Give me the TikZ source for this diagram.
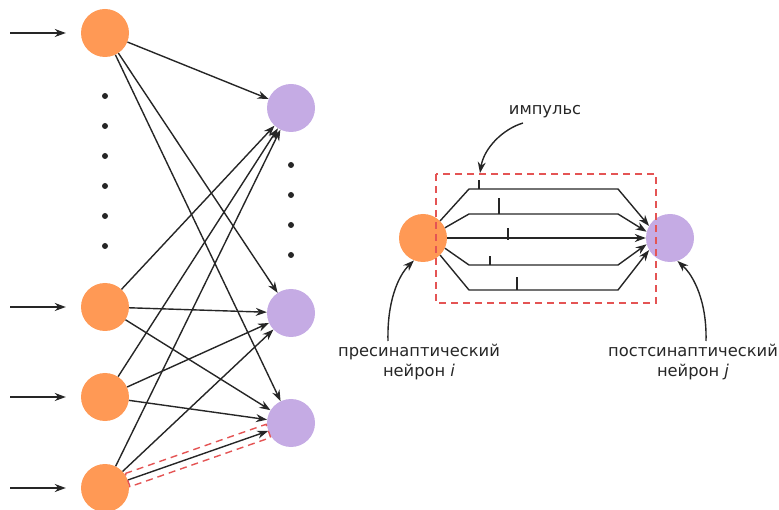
\documentclass[tikz,border=0pt]{standalone}
\usepackage{fontspec}
\setmainfont{DejaVu Sans}
\usetikzlibrary{arrows.meta,calc}
\definecolor{preorange}{RGB}{255,153,85}
\definecolor{postviolet}{RGB}{197,171,228}
\definecolor{markred}{RGB}{228,84,84}

\begin{document}
\begin{tikzpicture}[x=1pt,y=-1pt,
  pre/.style={circle,fill=preorange,minimum size=48pt,inner sep=0pt},
  post/.style={circle,fill=postviolet,minimum size=48pt,inner sep=0pt},
  arr/.style={draw=black!85,line width=1.4pt,-{Stealth[length=11pt,width=8pt,inset=3.5pt]}},
  spike/.style={draw=black!85,line width=1.4pt},
  dot/.style={circle,fill=black!85,minimum size=6pt,inner sep=0pt},
  redbox/.style={draw=markred,line width=1.4pt,dash pattern=on 7pt off 5pt},
  lbl/.style={font=\fontsize{16.3}{20.5}\selectfont,align=center,inner sep=0pt,text=black!85}
]
\useasboundingbox (0,0) rectangle (779,510);

% ---------- layered network ----------
\node[pre] (o1) at (105,33) {};
\node[pre] (o2) at (105,307) {};
\node[pre] (o3) at (105,397) {};
\node[pre] (o4) at (105,488) {};
\node[post] (p1) at (291,108) {};
\node[post] (p2) at (291,313) {};
\node[post] (p3) at (291,423) {};

\foreach \k in {0,...,5} \node[dot] (ld\k) at (105,96+30*\k) {};
\foreach \k in {0,...,3} \node[dot] (rd\k) at (291,165+30*\k) {};

% inputs
\foreach \i/\y in {1/33,2/307,3/397,4/488} {
  \coordinate (in\i) at (10,\y);
  \draw[arr,shorten >=15pt] (in\i) -- (o\i);
}

% all-to-all connections
\foreach \i in {1,...,4}
  \foreach \j in {1,...,3}
    \draw[arr] (o\i) -- (p\j);

% highlighted synapse
\coordinate (hA) at ($(o4)!24pt!(p3)$);
\coordinate (hB) at ($(p3)!24pt!(o4)$);
\draw[redbox] ($(hA)!7pt!90:(hB)$) -- ($(hB)!7pt!-90:(hA)$)
  -- ($(hB)!7pt!90:(hA)$) -- ($(hA)!7pt!-90:(hB)$) -- cycle;

% ---------- single synapse, enlarged ----------
\node[pre] (L) at (423,238) {};
\node[post] (R) at (670,238) {};

\draw[arr] (L.45)  -- (469,189) -- (618,189) -- (R.150);
\draw[arr] (L.25)  -- (469,214) -- (618,214) -- (R.165);
\draw[arr] (L.0)   -- (R.180);
\draw[arr] (L.-25) -- (469,265) -- (618,265) -- (R.195);
\draw[arr] (L.-45) -- (469,290) -- (618,290) -- (R.210);

% spikes travelling along the axons
\draw[spike] (479,189) -- (479,180);
\draw[spike] (499,214) -- (499,198);
\draw[spike] (508,240) -- (508,228);
\draw[spike] (490,265) -- (490,256);
\draw[spike] (517,290) -- (517,277);

\draw[redbox] (436,174) rectangle (656,303);

% labels
\node[lbl] (imp) at (545,112) {импульс};
\node[lbl] (prelbl) at (419,362) {пресинаптический\\нейрон \textit{i}};
\node[lbl] (postlbl) at (693,362) {постсинаптический\\нейрон \textit{j}};

\coordinate (impS) at (523,123);
\coordinate (impE) at (480,173);
\draw[arr] (impS) .. controls (503,129) and (484,148) .. (impE);

\coordinate (preS) at (388,341);
\draw[arr] (preS) .. controls (387,302) and (398,276) .. (L.248);

\coordinate (postS) at (706,341);
\draw[arr] (postS) .. controls (707,302) and (694,276) .. (R.288);
\end{tikzpicture}
\end{document}
